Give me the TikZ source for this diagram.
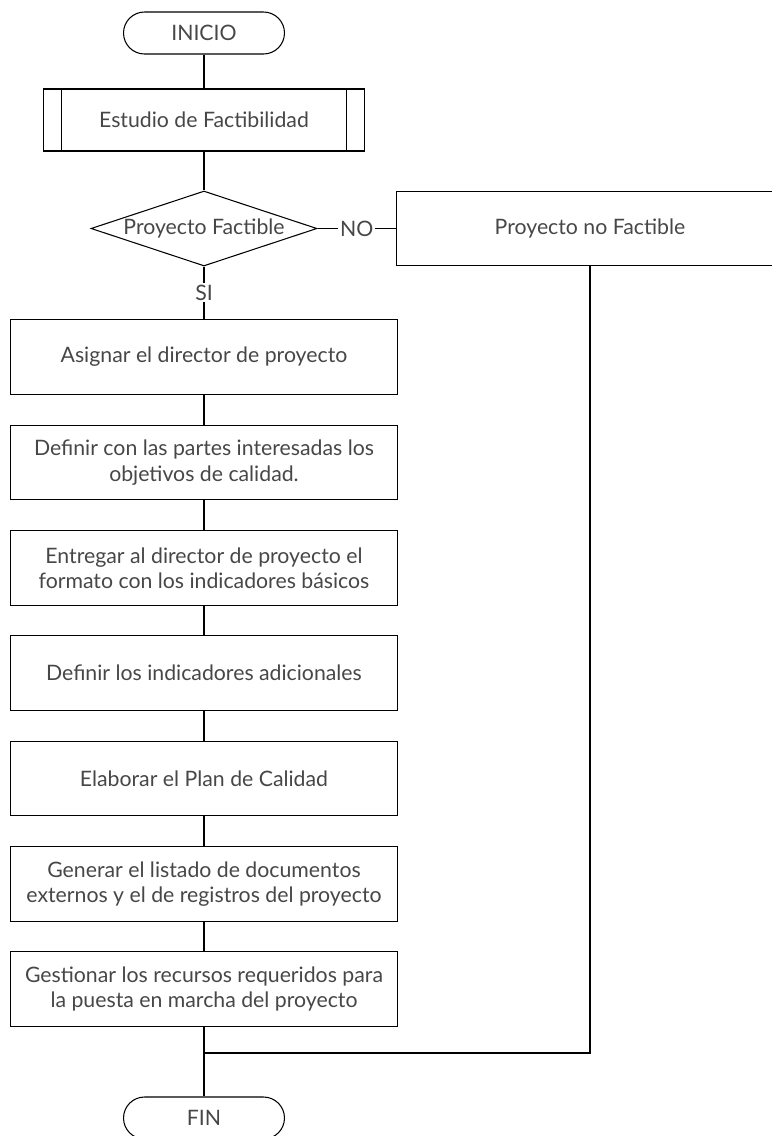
\documentclass[tikz,border=0pt]{standalone}
\usepackage{fontspec}
\setmainfont{Lato}
\usetikzlibrary{shapes.geometric}

\tikzset{
  every node/.style={font=\fontsize{12.1}{14.4}\selectfont, text=black!72},
  linea/.style={line width=0.6pt},
  terminal/.style={draw, line width=0.6pt, rounded corners=0.42cm, minimum width=3.22cm, minimum height=0.84cm, inner sep=0pt},
  subproceso/.style={draw, line width=0.6pt, minimum width=6.44cm, minimum height=1.24cm, inner sep=0pt},
  decision/.style={draw, diamond, aspect=3, line width=0.6pt, minimum width=4.52cm, minimum height=1.5cm, inner sep=0pt},
  proceso/.style={draw, line width=0.6pt, minimum width=7.74cm, minimum height=1.49cm, align=center, inner sep=0pt},
  etiqueta/.style={fill=white, inner sep=1pt}
}

\begin{document}
\begin{tikzpicture}[x=0.02cm, y=-0.02cm]
        \useasboundingbox (0,0) rectangle (771,1136);

        \node[terminal] at (204,33) (A) {INICIO};
        \node[subproceso] at (204,120) (B) {Estudio de Factibilidad};
        \node[decision] at (204,228.5) (C) {Proyecto Factible};
        \node[proceso] at (590,228.5) (D) {Proyecto no Factible};
        \node[proceso] at (204,357) (E) {Asignar el director de proyecto};
        \node[proceso] at (204,462.5) (F) {Definir con las partes interesadas los\\objetivos de calidad.};
        \node[proceso] at (204,568) (G) {Entregar al director de proyecto el\\formato con los indicadores básicos};
        \node[proceso] at (204,673) (H) {Definir los indicadores adicionales};
        \node[proceso] at (204,778.5) (I) {Elaborar el Plan de Calidad};
        \node[proceso] at (204,884) (J) {Generar el listado de documentos\\externos y el de registros del proyecto};
        \node[proceso] at (204,989) (K) {Gestionar los recursos requeridos para\\la puesta en marcha del proyecto};
        \node[terminal] at (204,1118) (L) {FIN};
        \coordinate (M) at (204,1053);

        \draw[linea] ([xshift=0.38cm]B.north west) -- ([xshift=0.38cm]B.south west);
        \draw[linea] ([xshift=-0.38cm]B.north east) -- ([xshift=-0.38cm]B.south east);

        \draw[linea] (A) -- (B);
        \draw[linea] (B) -- (C);
        \draw[linea] (C) -- (D) node [midway, etiqueta] (no) {NO};
        \draw[linea] (C) -- (E) node [midway, etiqueta] (si) {SI};
        \draw[linea] (E) -- (F);
        \draw[linea] (F) -- (G);
        \draw[linea] (G) -- (H);
        \draw[linea] (H) -- (I);
        \draw[linea] (I) -- (J);
        \draw[linea] (J) -- (K);
        \draw[linea] (K) -- (L);
        \draw[linea] (D) |- (M);

    \end{tikzpicture}
\end{document}
